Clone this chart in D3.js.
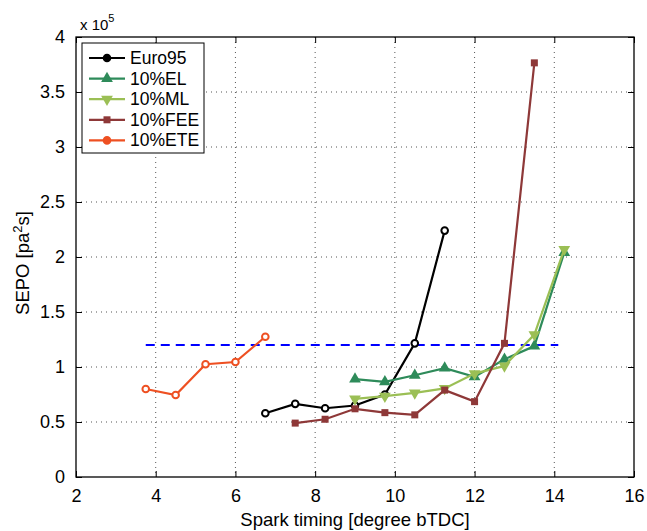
<!DOCTYPE html>
<html>
<head>
<meta charset="utf-8">
<script src="https://cdn.jsdelivr.net/npm/d3@7"></script>
<style>
  body { margin: 0; background: #fff; }
  svg text { font-family: "Liberation Sans", Arial, sans-serif; }
</style>
</head>
<body>
<svg id="chart" width="647" height="531"></svg>
<script>
// data (y values in units of 1e5)
const euroX = [6.75, 7.5, 8.25, 9, 9.75, 10.5, 11.25];
const euroY = [0.58, 0.665, 0.625, 0.65, 0.75, 1.215, 2.24];
const elX = [9, 9.75, 10.5, 11.25, 12, 12.75, 13.5, 14.25];
const elY = [0.89, 0.865, 0.925, 0.99, 0.91, 1.07, 1.19, 2.04];
const mlX = [9, 9.75, 10.5, 11.25, 12, 12.75, 13.5, 14.25];
const mlY = [0.71, 0.735, 0.765, 0.805, 0.94, 1.01, 1.295, 2.07];
const feeX = [7.5, 8.25, 9, 9.75, 10.5, 11.25, 12, 12.75, 13.5];
const feeY = [0.49, 0.525, 0.62, 0.585, 0.565, 0.79, 0.685, 1.215, 3.765];
const eteX = [3.75, 4.5, 5.25, 6, 6.75];
const eteY = [0.8, 0.745, 1.025, 1.045, 1.275];
const limitX = [3.75, 14.1];
const limitY = 1.2;

const xTicks = [2, 4, 6, 8, 10, 12, 14, 16];
const yTicks = [0, 0.5, 1, 1.5, 2, 2.5, 3, 3.5, 4];

const series = [
  { name: "Euro95", xs: euroX, ys: euroY, color: "#000000", marker: "circle" },
  { name: "10%EL", xs: elX, ys: elY, color: "#2e8b5a", marker: "triUp" },
  { name: "10%ML", xs: mlX, ys: mlY, color: "#9bbf55", marker: "triDown" },
  { name: "10%FEE", xs: feeX, ys: feeY, color: "#8e3838", marker: "square" },
  { name: "10%ETE", xs: eteX, ys: eteY, color: "#ee5022", marker: "circle" }
];

const svg = d3.select("#chart");
const pLeft = 76, pRight = 634, pTop = 37, pBottom = 477;

const x = d3.scaleLinear().domain([2, 16]).range([pLeft, pRight]);
const y = d3.scaleLinear().domain([0, 4]).range([pBottom, pTop]);

// grid
const grid = svg.append("g").attr("stroke", "#555").attr("stroke-width", 1)
  .attr("stroke-dasharray", "1,4");
xTicks.slice(1, -1).forEach(t => {
  grid.append("line").attr("x1", x(t)).attr("x2", x(t)).attr("y1", pTop).attr("y2", pBottom);
});
yTicks.slice(1, -1).forEach(t => {
  grid.append("line").attr("x1", pLeft).attr("x2", pRight).attr("y1", y(t)).attr("y2", y(t));
});

// axes with inward ticks
const xAxis = d3.axisBottom(x).tickValues(xTicks).tickSize(-6).tickPadding(12).tickFormat(d3.format("d"));
const yAxis = d3.axisLeft(y).tickValues(yTicks).tickSize(-6).tickPadding(11).tickFormat(d => d);
const xTop = d3.axisTop(x).tickValues(xTicks).tickSize(-6).tickFormat("");
const yRight = d3.axisRight(y).tickValues(yTicks).tickSize(-6).tickFormat("");

function styleAxis(g) {
  g.select(".domain").remove();
  g.selectAll("line").attr("stroke", "#000");
  g.selectAll("text").attr("font-size", 18).attr("fill", "#000");
}
svg.append("g").attr("transform", `translate(0,${pBottom})`).call(xAxis).call(styleAxis);
svg.append("g").attr("transform", `translate(${pLeft},0)`).call(yAxis).call(styleAxis);
svg.append("g").attr("transform", `translate(0,${pTop})`).call(xTop).call(styleAxis);
svg.append("g").attr("transform", `translate(${pRight},0)`).call(yRight).call(styleAxis);

svg.append("rect").attr("x", pLeft).attr("y", pTop)
  .attr("width", pRight - pLeft).attr("height", pBottom - pTop)
  .attr("fill", "none").attr("stroke", "#000").attr("stroke-width", 1.3);

// dashed limit
svg.append("line")
  .attr("x1", x(limitX[0])).attr("x2", x(limitX[1]))
  .attr("y1", y(limitY)).attr("y2", y(limitY))
  .attr("stroke", "#0000ff").attr("stroke-width", 2).attr("stroke-dasharray", "9,6");

// markers
function drawMarker(g, type, cx, cy, color, legend) {
  if (type === "circle") {
    g.append("circle").attr("cx", cx).attr("cy", cy).attr("r", 3.3)
      .attr("fill", legend ? color : "#fff").attr("stroke", color).attr("stroke-width", 2);
  } else if (type === "square") {
    g.append("rect").attr("x", cx - 3.5).attr("y", cy - 3.5).attr("width", 7).attr("height", 7)
      .attr("fill", color);
  } else if (type === "triUp") {
    g.append("path").attr("d", d3.symbol().type(d3.symbolTriangle).size(60)())
      .attr("transform", `translate(${cx},${cy})`).attr("fill", color);
  } else if (type === "triDown") {
    g.append("path").attr("d", d3.symbol().type(d3.symbolTriangle).size(60)())
      .attr("transform", `translate(${cx},${cy}) rotate(180)`).attr("fill", color);
  }
}

const line = d3.line().x(d => x(d[0])).y(d => y(d[1]));
series.forEach(s => {
  const pts = s.xs.map((v, i) => [v, s.ys[i]]);
  const g = svg.append("g");
  g.append("path").datum(pts).attr("d", line)
    .attr("fill", "none").attr("stroke", s.color).attr("stroke-width", 2.2);
  pts.forEach(p => drawMarker(g, s.marker, x(p[0]), y(p[1]), s.color, false));
});

// legend
const lg = svg.append("g");
lg.append("rect").attr("x", 82).attr("y", 43).attr("width", 122).attr("height", 110)
  .attr("fill", "#fff").attr("stroke", "#000").attr("stroke-width", 1);
series.forEach((s, i) => {
  const ly = 58 + i * 20.6;
  lg.append("line").attr("x1", 89).attr("x2", 125).attr("y1", ly).attr("y2", ly)
    .attr("stroke", s.color).attr("stroke-width", 2.2);
  drawMarker(lg, s.marker, 107, ly, s.color, true);
  lg.append("text").attr("x", 130).attr("y", ly + 6).attr("font-size", 17.5).text(s.name);
});

// labels
svg.append("text").attr("x", (pLeft + pRight) / 2).attr("y", 526)
  .attr("text-anchor", "middle").attr("font-size", 18.5).text("Spark timing [degree bTDC]");

const yl = svg.append("text").attr("transform", `translate(29,${(pTop + pBottom) / 2 + 6}) rotate(-90)`)
  .attr("text-anchor", "middle").attr("font-size", 18.5);
yl.append("tspan").text("SEPO [pa");
yl.append("tspan").attr("font-size", 13).attr("dy", -7).text("2");
yl.append("tspan").attr("dy", 7).text("s]");

const ex = svg.append("text").attr("x", 80).attr("y", 30).attr("font-size", 15);
ex.append("tspan").text("x 10");
ex.append("tspan").attr("font-size", 11).attr("dy", -8).text("5");
</script>
</body>
</html>
